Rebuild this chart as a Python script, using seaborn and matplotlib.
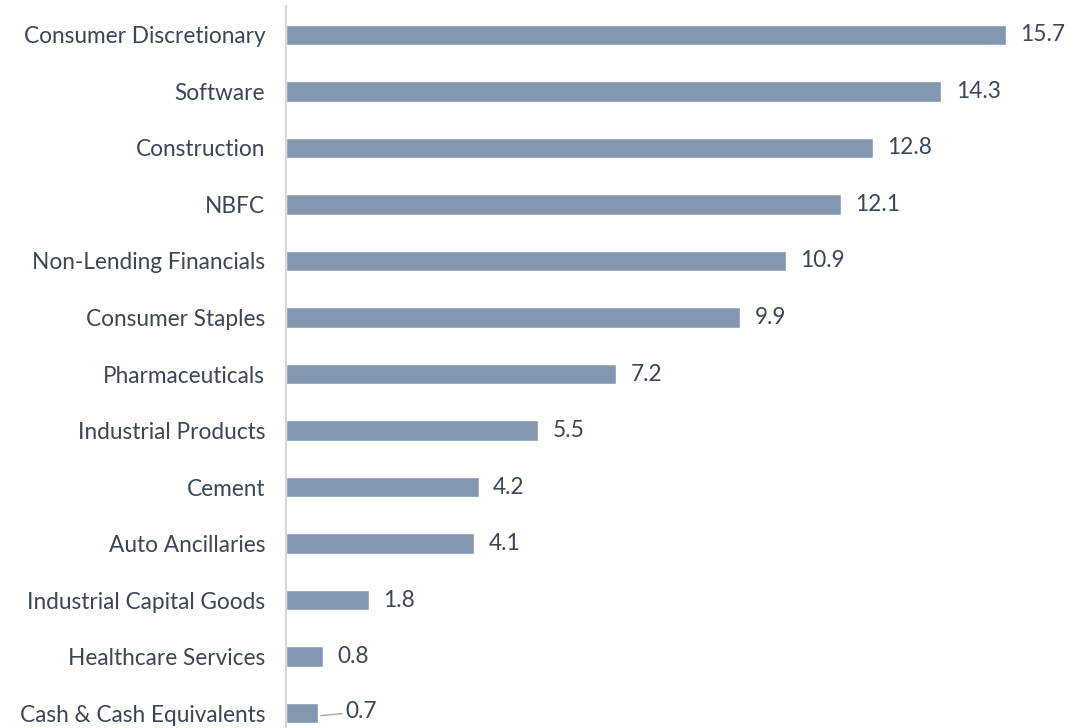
import matplotlib
matplotlib.use("Agg")
import matplotlib.pyplot as plt
import pandas as pd
import seaborn as sns

sectors = [
    "Consumer Discretionary",
    "Software",
    "Construction",
    "NBFC",
    "Non-Lending Financials",
    "Consumer Staples",
    "Pharmaceuticals",
    "Industrial Products",
    "Cement",
    "Auto Ancillaries",
    "Industrial Capital Goods",
    "Healthcare Services",
    "Cash & Cash Equivalents",
]
weights = [15.7, 14.3, 12.8, 12.1, 10.9, 9.9, 7.2, 5.5, 4.2, 4.1, 1.8, 0.8, 0.7]

BAR_COLOR = "#8497B0"
TEXT_COLOR = "#3B4656"
FONT_SIZE = 16.3

sns.set_theme(style="white")
plt.rcParams["font.family"] = ["Lato", "DejaVu Sans"]

df = pd.DataFrame({"sector": sectors, "weight": weights})

fig = plt.figure(figsize=(10.79, 7.28), dpi=100)
ax = fig.add_axes([286 / 1079, 0, 1 - 286 / 1079, 1 - 6 / 728])

sns.barplot(data=df, x="weight", y="sector", orient="h", color=BAR_COLOR,
            width=0.36, saturation=1, ax=ax)

ax.set_xlim(0, 17.3)
ax.set_ylim(12.265, -0.513)
ax.set_xlabel("")
ax.set_ylabel("")
ax.set_xticks([])
ax.tick_params(axis="y", length=0, pad=15, labelsize=FONT_SIZE, labelcolor=TEXT_COLOR)

for side in ["top", "right", "bottom"]:
    ax.spines[side].set_visible(False)
ax.spines["left"].set_color("#D9D9D9")
ax.spines["left"].set_linewidth(1.5)

for i, value in enumerate(weights):
    if i == len(weights) - 1:
        ax.annotate(f"{value:.1f}", xy=(value, i + 0.05), xytext=(value + 0.6, i - 0.02),
                    va="center", ha="left", fontsize=FONT_SIZE, color=TEXT_COLOR,
                    arrowprops=dict(arrowstyle="-", color="#A6A6A6", lw=1,
                                    shrinkA=0, shrinkB=2))
    else:
        ax.text(value + 0.32, i, f"{value:.1f}", va="center", ha="left",
                fontsize=FONT_SIZE, color=TEXT_COLOR)

fig.savefig("out.png", dpi=100)
